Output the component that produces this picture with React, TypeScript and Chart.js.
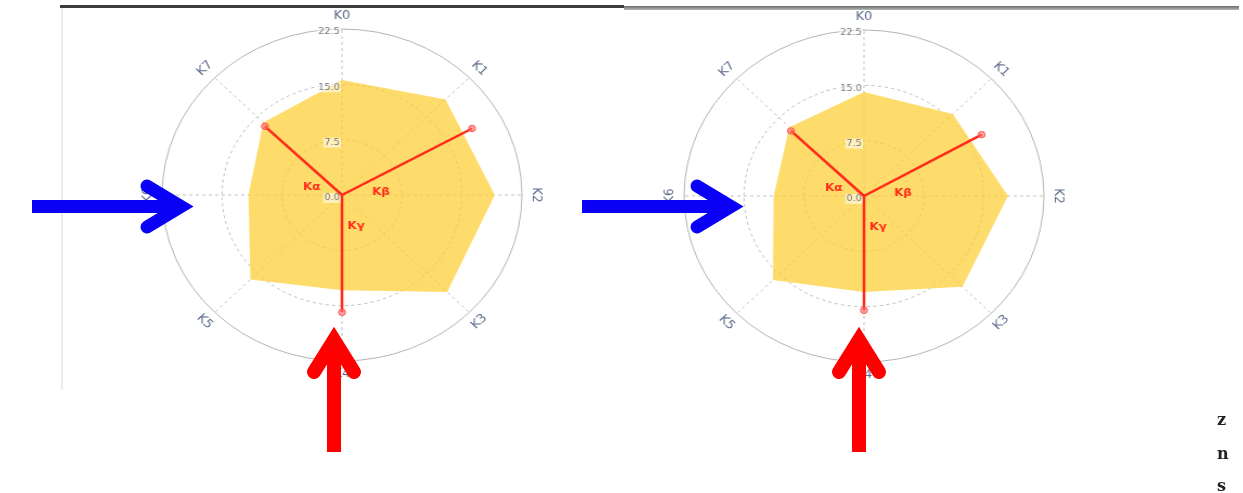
import React, { useEffect, useRef } from "react";
import { Chart, registerables } from "chart.js";

Chart.register(...registerables);

// ---- data ----
const axisLabels = ["K0", "K1", "K2", "K3", "K4", "K5", "K6", "K7"];
const tickValues = [0, 7.5, 15, 22.5];
const tickLabels = ["0.0", "7.5", "15.0", "22.5"];

const leftValues = [15.6, 18.3, 19.1, 18.6, 12.9, 16.2, 11.7, 13.9];
const rightValues = [14.1, 15.7, 18.0, 17.4, 13.0, 16.1, 11.3, 13.2];

const vectorNames = ["Kα", "Kβ", "Kγ"];
const leftVectorValues = [13.4, 18.6, 15.9];
const leftVectorAngles = [314, 61, 180];
const rightVectorValues = [12.7, 16.9, 15.5];
const rightVectorAngles = [314, 60.5, 180];

// ---- styling ----
const vectorLabelOffsets = [
  [-28, -8],
  [36, -3],
  [13, 31],
];
const RED = "#ff2a1a";

const overlayPlugin = {
  id: "overlay",
  afterDatasetsDraw(chart: any, _args: any, opts: any) {
    const scale = chart.scales.r;
    const ctx = chart.ctx as CanvasRenderingContext2D;
    const cx = scale.xCenter;
    const cy = scale.yCenter;
    ctx.save();

    // radial tick labels
    ctx.font = "9px 'DejaVu Sans'";
    ctx.textAlign = "right";
    ctx.textBaseline = "middle";
    tickValues.forEach((v, i) => {
      const d = scale.getDistanceFromCenterForValue(v);
      const y = cy - d + 3;
      const w = ctx.measureText(tickLabels[i]).width;
      ctx.fillStyle = "rgba(255,255,255,0.55)";
      ctx.fillRect(cx - 2 - w - 1, y - 5, w + 2, 10);
      ctx.fillStyle = "#7a7a7a";
      ctx.fillText(tickLabels[i], cx - 2, y);
    });

    // point (axis) labels, rotated tangentially
    const outer = scale.getDistanceFromCenterForValue(22.5);
    ctx.font = "12px 'DejaVu Sans'";
    ctx.fillStyle = "#5d6c8c";
    ctx.textAlign = "center";
    ctx.textBaseline = "middle";
    axisLabels.forEach((lab, i) => {
      const a = (i * 360) / axisLabels.length;
      const rad = (a * Math.PI) / 180;
      const r = outer + 13;
      const x = cx + r * Math.sin(rad);
      const y = cy - r * Math.cos(rad);
      let rot = a;
      if (a > 90 && a < 270) rot = a - 180;
      ctx.save();
      ctx.translate(x, y);
      ctx.rotate((rot * Math.PI) / 180);
      ctx.fillText(lab, 0, 0);
      ctx.restore();
    });

    // vectors
    const vals: number[] = opts.vectorValues;
    const angs: number[] = opts.vectorAngles;
    vals.forEach((v, i) => {
      const d = scale.getDistanceFromCenterForValue(v);
      const rad = (angs[i] * Math.PI) / 180;
      const x = cx + d * Math.sin(rad);
      const y = cy - d * Math.cos(rad);
      ctx.strokeStyle = RED;
      ctx.lineWidth = 2.5;
      ctx.beginPath();
      ctx.moveTo(cx, cy);
      ctx.lineTo(x, y);
      ctx.stroke();
      ctx.beginPath();
      ctx.arc(x, y, 3.2, 0, Math.PI * 2);
      ctx.fillStyle = "rgba(255,110,110,0.6)";
      ctx.fill();
      ctx.lineWidth = 1;
      ctx.strokeStyle = "#ff5050";
      ctx.stroke();
    });
    ctx.font = "bold 11px 'DejaVu Sans'";
    ctx.fillStyle = RED;
    ctx.textAlign = "center";
    ctx.textBaseline = "middle";
    vectorNames.forEach((n, i) => {
      const [ox, oy] = vectorLabelOffsets[i];
      ctx.fillText(n, cx + ox, cy + oy);
    });
    ctx.restore();
  },
};

function Radar({ values, vectorValues, vectorAngles }: { values: number[]; vectorValues: number[]; vectorAngles: number[] }) {
  const ref = useRef<HTMLCanvasElement>(null);
  useEffect(() => {
    if (!ref.current) return;
    const chart = new Chart(ref.current, {
      type: "radar",
      data: {
        labels: axisLabels,
        datasets: [
          {
            data: values,
            backgroundColor: "rgba(252,206,50,0.72)",
            borderWidth: 0,
            pointRadius: 0,
            fill: true,
          },
        ],
      },
      options: {
        responsive: false,
        animation: false,
        layout: { padding: 34 },
        plugins: {
          legend: { display: false },
          tooltip: { enabled: false },
          overlay: { vectorValues, vectorAngles },
        } as any,
        scales: {
          r: {
            min: 0,
            max: 22.5,
            ticks: { display: false, stepSize: 7.5 },
            pointLabels: { display: false },
            grid: {
              circular: true,
              color: (c: any) => (c.index === 3 ? "#b4b4b4" : "#bdbdbd"),
              lineWidth: 1,
            },
            border: { dash: (c: any) => (c.index === 3 ? [] : [3, 3]) } as any,
            angleLines: { color: "#c4c4c4", borderDash: [3, 3], lineWidth: 1 },
          },
        },
      } as any,
      plugins: [overlayPlugin as any],
    });
    return () => chart.destroy();
  }, []);
  return <canvas ref={ref} width={400} height={400} />;
}

const abs = (l: number, t: number, w: number, h: number, extra: any = {}) => ({
  position: "absolute" as const,
  left: l,
  top: t,
  width: w,
  height: h,
  ...extra,
});

export default function App() {
  return (
    <div style={{ position: "absolute", left: 0, top: 0, width: 1243, height: 493, overflow: "hidden", background: "#fff" }}>
      {/* frame lines */}
      <div style={abs(60, 5, 564, 3, { background: "#3c3c3c" })} />
      <div style={abs(624, 6, 615, 4, { background: "linear-gradient(#6a6a6a, #b8b8b8)" })} />
      <div style={abs(61, 8, 2, 382, { background: "#ececec" })} />

      {/* charts, stretched horizontally like the reference */}
      <div style={abs(142, -5, 400, 400, { transform: "scaleX(1.084)", transformOrigin: "200px 200px" })}>
        <Radar values={leftValues} vectorValues={leftVectorValues} vectorAngles={leftVectorAngles} />
      </div>
      <div style={abs(664, -4, 400, 400, { transform: "scaleX(1.084)", transformOrigin: "200px 200px" })}>
        <Radar values={rightValues} vectorValues={rightVectorValues} vectorAngles={rightVectorAngles} />
      </div>

      {/* annotation arrows */}
      <svg style={abs(0, 0, 1243, 493)} width={1243} height={493}>
        {[0, 550].map((dx) => (
          <g key={"b" + dx} transform={`translate(${dx},0)`} stroke="#0a00f5" fill="none" strokeWidth={13}>
            <line x1={32} y1={206.5} x2={182} y2={206.5} strokeLinecap="butt" />
            <polyline points="147,186 181,206.5 147,227" strokeLinecap="round" strokeLinejoin="miter" />
          </g>
        ))}
        {[0, 525].map((dx) => (
          <g key={"r" + dx} transform={`translate(${dx},0)`} stroke="#ff0000" fill="none" strokeWidth={14}>
            <line x1={334} y1={452} x2={334} y2={342} strokeLinecap="butt" />
            <polyline points="314,372 334,340 354,372" strokeLinecap="round" strokeLinejoin="miter" />
          </g>
        ))}
      </svg>

      {/* cut-off text at right edge */}
      <div style={abs(1217, 410, 26, 20, { font: "bold 16px 'DejaVu Serif'", color: "#222" })}>z</div>
      <div style={abs(1217, 444, 26, 20, { font: "bold 16px 'DejaVu Serif'", color: "#222" })}>n</div>
      <div style={abs(1217, 476, 26, 20, { font: "bold 16px 'DejaVu Serif'", color: "#222" })}>s</div>
    </div>
  );
}
